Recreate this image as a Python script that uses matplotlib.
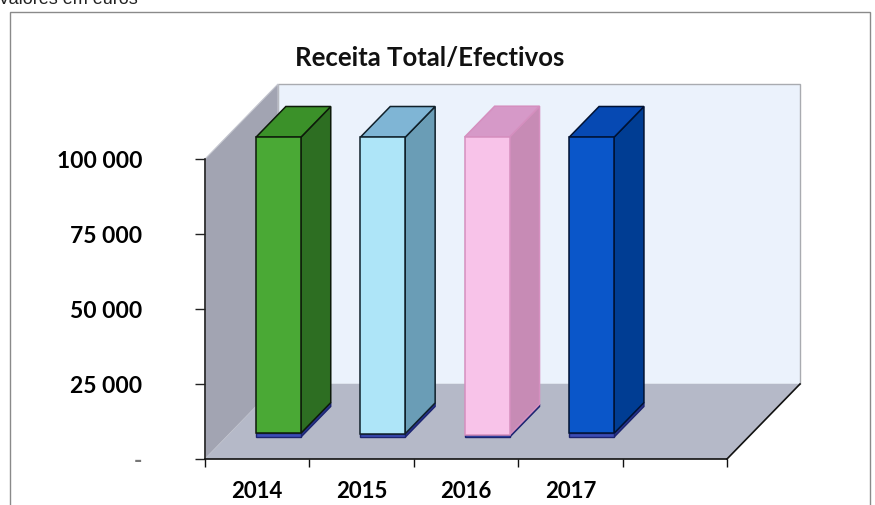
import matplotlib
matplotlib.use("Agg")
import matplotlib.pyplot as plt
from matplotlib.patches import Polygon, Rectangle

# ---- data -------------------------------------------------------------
years = ["2014", "2015", "2016", "2017"]
slot_labels = ["2014", "2015", "2016", "2017", ""]
base_values = [1300, 1200, 800, 1300]          # small lower series
main_values = [98700, 98800, 99300, 98700]     # receita total / efectivos
y_ticks = [0, 25000, 50000, 75000, 100000]
y_tick_labels = ["-", "25 000", "50 000", "75 000", "100 000"]

front_colors = ["#4aa935", "#aee5f8", "#f8c3e9", "#0a56c9"]
side_colors = ["#2d6e22", "#6a9db6", "#c78bb5", "#003d93"]
top_colors = ["#3b9129", "#7fb5d5", "#d699c8", "#0649b3"]
edge_colors = ["#0d1a0a", "#10202a", "#d58fbf", "#001233"]
base_front = "#3c4db5"
base_side = "#27338d"

# ---- figure / axes geometry (pixels) -----------------------------------
W, H = 875, 506
AX_L, AX_B, AX_W, AX_H = 205, 46, 522, 300
N_SLOTS = 5
YMAX = 100000
DEPTH_PX = (73, 75)

fig = plt.figure(figsize=(W / 100, H / 100), dpi=100)
fig.patch.set_facecolor("white")

# outer chart frame and caption above it
fig.add_artist(Rectangle((10 / W, -0.02), (870 - 10) / W, 1.02 - 13 / H,
                         transform=fig.transFigure, fill=False,
                         edgecolor="#8a8a8a", linewidth=1.0))
fig.text(-2 / W, 1 - 4 / H, "Valores em euros", fontsize=13,
         family="Liberation Sans", va="baseline", ha="left", color="#222222")

fig.text(430 / W, 1 - 58 / H, "Receita Total/Efectivos", fontsize=18.5,
         family="Lato", weight="bold", ha="center", va="center", color="#111111")

ax = fig.add_axes([AX_L / W, AX_B / H, AX_W / W, AX_H / H])
ax.set_xlim(0, N_SLOTS)
ax.set_ylim(0, YMAX)
ax.patch.set_visible(False)

# depth offsets in data units
DX = DEPTH_PX[0] * N_SLOTS / AX_W
DY = DEPTH_PX[1] * YMAX / AX_H

# ---- walls and floor --------------------------------------------------
back_wall = Polygon([(DX, DY), (N_SLOTS + DX, DY), (N_SLOTS + DX, YMAX + DY), (DX, YMAX + DY)],
                    closed=True, facecolor="#ebf2fc", edgecolor="#a9abb0",
                    linewidth=1.0, clip_on=False, zorder=0.5)
left_wall = Polygon([(0, 0), (DX, DY), (DX, YMAX + DY), (0, YMAX)], closed=True,
                    facecolor="#a2a4b2", edgecolor="#c5c7d0", linewidth=0.8,
                    clip_on=False, zorder=0.6)
floor = Polygon([(0, 0), (N_SLOTS, 0), (N_SLOTS + DX, DY), (DX, DY)], closed=True,
                facecolor="#b5b9c8", edgecolor="none", clip_on=False, zorder=0.6)
for p in (back_wall, left_wall, floor):
    ax.add_patch(p)
ax.plot([N_SLOTS, N_SLOTS + DX], [0, DY], color="#111111", lw=1.2,
        clip_on=False, zorder=0.7)

# ---- 3-D bars -----------------------------------------------------------
BAR_W = 0.43
F0, FD = 0.29, 0.41           # front position and thickness as depth fractions
ox, oy = F0 * DX, F0 * DY
bdx, bdy = FD * DX, FD * DY


def box(x_center, y0, y1, front, side, top, edge, lw, draw_top):
    xl = x_center - BAR_W / 2 + ox
    xr = x_center + BAR_W / 2 + ox
    ax.bar(x_center + ox, y1 - y0, width=BAR_W, bottom=y0 + oy, color=front,
           edgecolor=edge, linewidth=lw, clip_on=False, zorder=3)
    ax.add_patch(Polygon([(xr, y0 + oy), (xr + bdx, y0 + oy + bdy),
                          (xr + bdx, y1 + oy + bdy), (xr, y1 + oy)], closed=True,
                         facecolor=side, edgecolor=edge, linewidth=lw,
                         clip_on=False, zorder=2.9))
    if draw_top:
        ax.add_patch(Polygon([(xl, y1 + oy), (xr, y1 + oy), (xr + bdx, y1 + oy + bdy),
                              (xl + bdx, y1 + oy + bdy)], closed=True,
                             facecolor=top, edgecolor=edge, linewidth=lw,
                             clip_on=False, zorder=2.9))


for i in range(len(years)):
    xc = i + 0.5
    b = base_values[i]
    m = main_values[i]
    box(xc, 0, b, base_front, base_side, base_side, "#1c2470", 1.0, False)
    box(xc, b, b + m, front_colors[i], side_colors[i], top_colors[i],
        edge_colors[i], 1.1, True)

# ---- axes decoration ------------------------------------------------------
for s in ("top", "right"):
    ax.spines[s].set_visible(False)
ax.spines["left"].set_color("#222222")
ax.spines["left"].set_linewidth(1.2)
ax.spines["bottom"].set_color("#111111")
ax.spines["bottom"].set_linewidth(1.2)

ax.set_yticks(y_ticks)
ax.set_yticklabels(y_tick_labels, fontsize=16.5, family="Lato", weight="bold")
ax.get_yticklabels()[0].set_color("#777777")
ax.tick_params(axis="y", direction="out", length=7, width=1.0, pad=38,
               color="#222222")

ax.set_xticks(range(N_SLOTS + 1))
ax.set_xticklabels([])
ax.set_xticks([i + 0.5 for i in range(N_SLOTS)], minor=True)
ax.set_xticklabels(slot_labels, minor=True, fontsize=16, family="Lato",
                   weight="bold")
ax.tick_params(axis="x", which="major", direction="out", length=6, width=1.0,
               color="#111111")
ax.tick_params(axis="x", which="minor", length=0, pad=15)

fig.savefig("out.png", dpi=100)
